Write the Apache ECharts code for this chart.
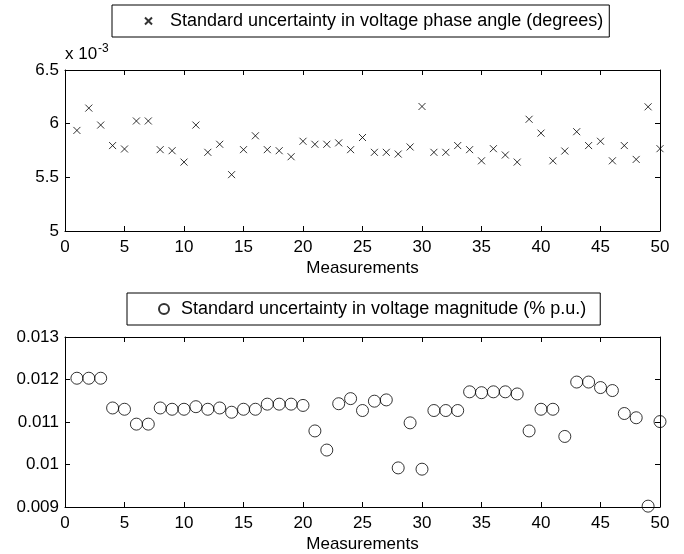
<!DOCTYPE html>
<html><head><meta charset="utf-8">
<script src="https://cdn.jsdelivr.net/npm/echarts@6/dist/echarts.min.js"></script>
<style>html,body{margin:0;padding:0;background:#fff}#c{width:684px;height:554px}</style>
</head><body><div id="c"></div>
<script>
var measurements = [1,2,3,4,5,6,7,8,9,10,11,12,13,14,15,16,17,18,19,20,21,22,23,24,25,26,27,28,29,30,31,32,33,34,35,36,37,38,39,40,41,42,43,44,45,46,47,48,49,50];
// phase angle uncertainty, in units of 1e-3 degrees
var phaseAngle = [5.937,6.145,5.987,5.796,5.764,6.025,6.025,5.758,5.748,5.642,5.987,5.733,5.808,5.525,5.758,5.887,5.758,5.748,5.692,5.836,5.808,5.808,5.821,5.758,5.871,5.733,5.733,5.717,5.783,6.160,5.733,5.733,5.796,5.758,5.654,5.767,5.708,5.642,6.041,5.912,5.654,5.745,5.925,5.796,5.836,5.654,5.796,5.667,6.157,5.767];
var magnitude = [0.01203,0.01203,0.01203,0.01133,0.01130,0.01095,0.01095,0.01133,0.01130,0.01130,0.01136,0.01130,0.01133,0.01123,0.01130,0.01130,0.01142,0.01142,0.01142,0.01139,0.01079,0.01034,0.01143,0.01155,0.01127,0.01149,0.01152,0.00992,0.01098,0.00989,0.01127,0.01127,0.01127,0.01171,0.01169,0.01171,0.01171,0.01166,0.01079,0.01130,0.01130,0.01066,0.01194,0.01194,0.01181,0.01174,0.01120,0.01110,0.00902,0.01101];
var topTicks = [5, 6.5, 0.5];
var botTicks = [0.009, 0.013, 0.001];
var nameTop = 'Standard uncertainty in voltage phase angle (degrees)';
var nameBot = 'Standard uncertainty in voltage magnitude (% p.u.)';
var xName = 'Measurements';

var FONT = 'Liberation Sans, Arial, Helvetica, sans-serif';
var chart = echarts.init(document.getElementById('c'), null, {renderer:'canvas'});
function pairs(ys){ return measurements.map(function(x,i){return [x, ys[i]];}); }
function xAx(grid, show, pos){
  return {type:'value', gridIndex:grid, min:0, max:50, interval:5, position:pos,
    axisLine:{show:true, onZero:false, lineStyle:{color:'#000', width:1}},
    axisTick:{show:true, inside:true, length:5, lineStyle:{color:'#000'}},
    axisLabel:{show:show, color:'#000', fontSize:17, fontFamily:FONT, margin:8},
    splitLine:{show:false},
    name: show ? xName : '', nameLocation:'middle', nameGap:29,
    nameTextStyle:{color:'#000', fontSize:17, fontFamily:FONT}};
}
function yAx(grid, t, show, pos, fmt){
  return {type:'value', gridIndex:grid, min:t[0], max:t[1], interval:t[2], position:pos,
    axisLine:{show:true, onZero:false, lineStyle:{color:'#000', width:1}},
    axisTick:{show:true, inside:true, length:5, lineStyle:{color:'#000'}},
    axisLabel:{show:show, color:'#000', fontSize:17, fontFamily:FONT, margin:6, formatter:fmt},
    splitLine:{show:false}};
}
var crossPath = 'path://M0,0L10,10M10,0L0,10';
chart.setOption({
  animation:false,
  grid:[{left:65, right:24, top:70, height:161}, {left:65, right:24, top:337, height:171}],
  xAxis:[xAx(0,true,'bottom'), xAx(0,false,'top'), xAx(1,true,'bottom'), xAx(1,false,'top')],
  yAxis:[yAx(0,topTicks,true,'left',function(v){return String(parseFloat(v.toFixed(1)));}), yAx(0,topTicks,false,'right'),
         yAx(1,botTicks,true,'left',function(v){return String(parseFloat(v.toFixed(3)));}), yAx(1,botTicks,false,'right')],
  legend:[
    {data:[{name:nameTop, icon:crossPath}], left:112, top:5, orient:'horizontal',
     borderColor:'#000', borderWidth:1, padding:[6,6,6,32], itemWidth:7, itemHeight:7,
     textStyle:{color:'#000', fontSize:18, fontFamily:FONT, lineHeight:20, padding:[0,0,0,13]}, selectedMode:false},
    {data:[{name:nameBot, icon:'circle'}], left:127, top:293, orient:'horizontal',
     borderColor:'#000', borderWidth:1, padding:[6,14,6,31], itemWidth:10, itemHeight:10,
     textStyle:{color:'#000', fontSize:18, fontFamily:FONT, lineHeight:20, padding:[0,0,0,7]}, selectedMode:false}
  ],
  graphic:[
    {type:'text', x:65, y:63, style:{text:'x 10', fontSize:17, fontFamily:FONT, fill:'#000', verticalAlign:'bottom'}},
    {type:'text', x:98, y:55, style:{text:'-3', fontSize:12, fontFamily:FONT, fill:'#000', verticalAlign:'bottom'}}
  ],
  series:[
    {type:'scatter', name:nameTop, xAxisIndex:0, yAxisIndex:0, data:pairs(phaseAngle),
     symbol:crossPath, symbolSize:7, clip:false, itemStyle:{color:'rgba(0,0,0,0)', borderColor:'#000', borderWidth:1}},
    {type:'scatter', name:nameBot, xAxisIndex:2, yAxisIndex:2, data:pairs(magnitude),
     symbol:'circle', symbolSize:12, clip:false, itemStyle:{color:'rgba(0,0,0,0)', borderColor:'#000', borderWidth:1}}
  ]
});
</script></body></html>
